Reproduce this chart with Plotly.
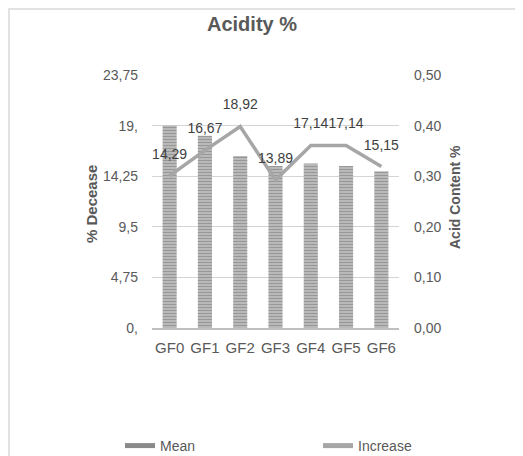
import plotly.graph_objects as go

categories = ["GF0", "GF1", "GF2", "GF3", "GF4", "GF5", "GF6"]
mean_acid = [0.40, 0.38, 0.34, 0.32, 0.325, 0.32, 0.31]
increase = [14.29, 16.67, 18.92, 13.89, 17.14, 17.14, 15.15]
left_ticks = [0, 4.75, 9.5, 14.25, 19, 23.75]
left_ticktext = ["0,", "4,75", "9,5", "14,25", "19,", "23,75"]
right_ticks = [0, 0.1, 0.2, 0.3, 0.4, 0.5]
right_ticktext = ["0,00", "0,10", "0,20", "0,30", "0,40", "0,50"]

FONT = "Liberation Sans, Arial, sans-serif"
TXT = "#595959"

OFF = 8  # page body margin
SW, SH = 523, 456
W, H = SW - OFF, SH - OFF
PX0, PX1, PY0, PY1 = 152, 399, 75, 328
L = PX0 - OFF
R = SW - PX1
T = PY0 - OFF
B = SH - PY1
pw = PX1 - PX0
ph = PY1 - PY0

def px_x(px):
    return (px - PX0) / pw

def px_y(py):
    return (PY1 - py) / ph

fig = go.Figure()
fig.add_trace(go.Bar(
    x=categories, y=mean_acid, name="Mean", yaxis="y", showlegend=False,
    marker=dict(color="#c4c4c4", line=dict(width=0),
                pattern=dict(shape="-", fgcolor="#6a6a6a", bgcolor="#c4c4c4",
                             size=3, solidity=0.5, fillmode="overlay")),
))
# legend swatch for the striped bars (a wide flat bar like the reference)
fig.add_trace(go.Scatter(
    x=[None], y=[None], name="Mean", mode="lines", legend="legend",
    line=dict(color="#8a8a8a", width=5),
))
fig.add_trace(go.Scatter(
    x=categories, y=increase, name="Increase", mode="lines+markers+text", yaxis="y2",
    legend="legend2",
    line=dict(color="#a6a6a6", width=3.5),
    marker=dict(size=20, color="rgba(0,0,0,0)", line=dict(width=0)),
    text=[f"{v:.2f}".replace(".", ",") for v in increase],
    textposition="top center",
    textfont=dict(family=FONT, size=14, color="#404040"),
))

fig.update_layout(
    width=W, height=H, showlegend=True,
    margin=dict(l=L, r=R, t=T, b=B, autoexpand=False),
    paper_bgcolor="white", plot_bgcolor="white",
    font=dict(family=FONT, color=TXT, size=14),
    bargap=0.6,
    title=dict(text="<b>Acidity %</b>", x=(252 - OFF) / W, xref="container", xanchor="center",
               y=1 - (24 - OFF) / H, yref="container", yanchor="middle",
               font=dict(size=20, color=TXT, family=FONT)),
    xaxis=dict(range=[-0.5, len(categories) - 0.5], showgrid=False, showline=True,
               linecolor="#bfbfbf", linewidth=1.5,
               ticks="", tickfont=dict(size=15, color=TXT), ticklabelstandoff=5,
               automargin=False),
    yaxis=dict(range=[0, 0.5], tickvals=right_ticks, ticktext=right_ticktext, side="right",
               showgrid=True, gridcolor="#d4d4d4", gridwidth=1.2, zeroline=False,
               ticks="", tickfont=dict(size=14, color=TXT), ticklabelstandoff=14,
               automargin=False),
    yaxis2=dict(range=[0, 23.75], tickvals=left_ticks, ticktext=left_ticktext,
                overlaying="y", side="left", showgrid=False, zeroline=False,
                ticks="", tickfont=dict(size=14, color=TXT), ticklabelstandoff=13,
                automargin=False),
    legend=dict(orientation="h", x=px_x(120), xanchor="left", y=px_y(446), yanchor="middle",
                font=dict(size=14, color=TXT), bgcolor="rgba(0,0,0,0)"),
    legend2=dict(orientation="h", x=px_x(318), xanchor="left", y=px_y(446), yanchor="middle",
                 font=dict(size=14, color=TXT), bgcolor="rgba(0,0,0,0)",
                 itemsizing="constant"),
    shapes=[dict(type="rect", xref="paper", yref="paper", layer="below",
                 x0=px_x(9), x1=px_x(540), y0=px_y(480), y1=px_y(9),
                 line=dict(color="#d9d9d9", width=1.5), fillcolor="rgba(0,0,0,0)")],
    annotations=[
        dict(text="<b>% Decease</b>", textangle=-90, xref="paper", yref="paper",
             x=px_x(92), y=px_y(204), showarrow=False, xanchor="center", yanchor="middle",
             font=dict(size=15, color=TXT)),
        dict(text="<b>Acid Content %</b>", textangle=-90, xref="paper", yref="paper",
             x=px_x(455), y=px_y(197), showarrow=False, xanchor="center", yanchor="middle",
             font=dict(size=14, color=TXT)),
    ],
)

fig.write_html("out.html")
